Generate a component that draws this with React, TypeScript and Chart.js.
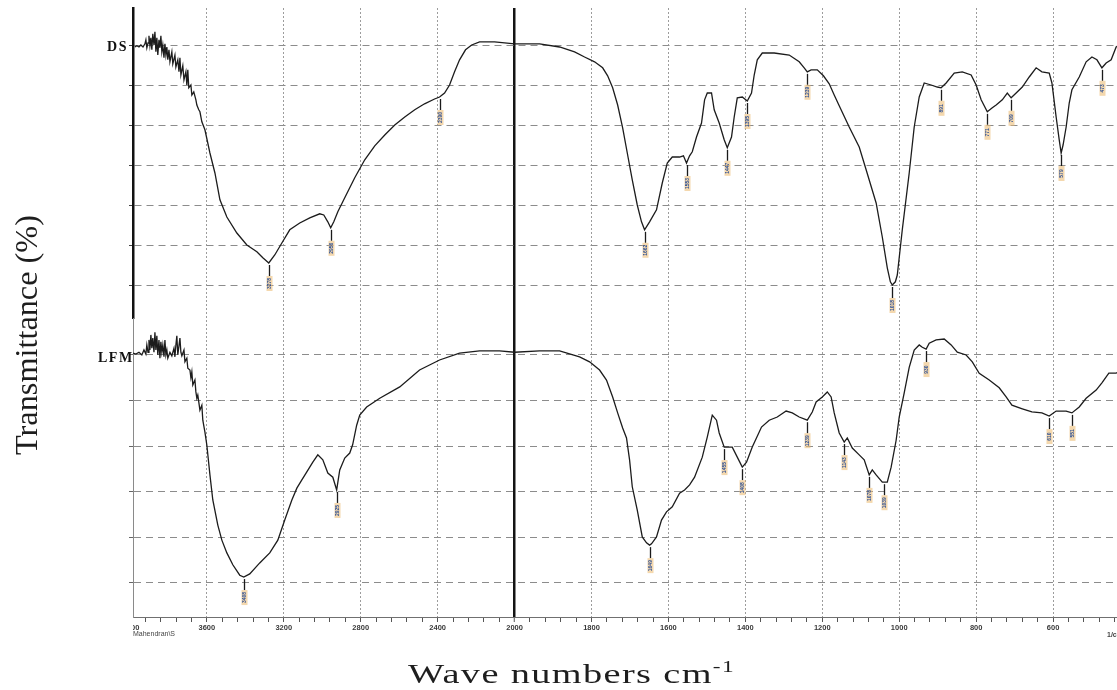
import React, { useEffect, useRef } from "react";
import { Chart, registerables } from "chart.js";

Chart.register(...registerables);

// FTIR spectra: wavenumber (cm-1) and transmittance for the two samples
const dsWavenumbers = [
  3974, 3964, 3953, 3943, 3932, 3922, 3917, 3912, 3906, 3901,
  3896, 3891, 3886, 3881, 3875, 3870, 3865, 3860, 3855, 3849,
  3844, 3839, 3834, 3829, 3823, 3818, 3813, 3808, 3803, 3797,
  3792, 3782, 3777, 3766, 3761, 3751, 3745, 3740, 3735, 3725,
  3719, 3709, 3704, 3699, 3694, 3683, 3678, 3668, 3657, 3652,
  3642, 3636, 3626, 3610, 3584, 3558, 3532, 3496, 3444, 3392,
  3340, 3309, 3278, 3247, 3210, 3169, 3117, 3065, 3013, 2992,
  2971, 2956, 2940, 2919, 2883, 2831, 2779, 2727, 2675, 2623,
  2571, 2519, 2468, 2416, 2390, 2364, 2338, 2312, 2286, 2255,
  2223, 2182, 2104, 2000,
  1935, 1883, 1844, 1818, 1792, 1771, 1758, 1745, 1732, 1719,
  1706, 1694, 1681, 1670, 1662, 1649, 1631, 1616, 1603, 1590,
  1571, 1561, 1553, 1545, 1538, 1527, 1514, 1506, 1499, 1488,
  1481, 1468, 1455, 1447, 1436, 1429, 1421, 1408, 1395, 1384,
  1377, 1369, 1356, 1325, 1286, 1260, 1247, 1239, 1229, 1213,
  1197, 1182, 1169, 1156, 1130, 1104, 1086, 1060, 1044, 1031,
  1023, 1018, 1010, 1005, 992, 974, 961, 948, 935, 917,
  901, 891, 878, 857, 836, 813, 800, 787, 771, 758,
  748, 732, 719, 709, 696, 680, 662, 644, 629, 610,
  603, 592, 584, 579, 574, 566, 558, 551, 532, 514,
  499, 486, 473, 462, 449, 436, 423, 403,
];
const dsTransmittance = [
  89.5, 89.8, 89.5, 90.0, 89.5, 90.3, 91.3, 89.3, 90.5, 92.3,
  89.8, 91.8, 88.8, 92.8, 90.0, 93.3, 88.3, 91.8, 87.5, 91.3,
  89.3, 92.3, 88.3, 90.0, 86.8, 90.3, 87.5, 89.5, 86.3, 88.8,
  85.8, 88.3, 85.3, 87.5, 84.5, 86.3, 83.3, 86.8, 82.5, 84.8,
  81.3, 83.3, 80.0, 83.8, 79.3, 80.0, 77.5, 78.3, 76.3, 75.0,
  73.8, 73.3, 70.8, 68.8, 63.0, 58.0, 51.3, 47.0, 43.0, 40.0,
  38.3, 36.8, 35.5, 37.5, 40.5, 43.8, 45.5, 46.8, 47.8, 47.5,
  45.8, 44.3, 45.8, 48.3, 51.8, 56.8, 61.3, 64.8, 67.5, 70.0,
  72.0, 73.8, 75.3, 76.5, 77.0, 78.0, 80.0, 83.3, 86.3, 88.8,
  90.0, 90.8, 90.8, 90.3,
  90.3, 89.5, 88.3, 87.0, 85.8, 84.3, 82.3, 79.3, 75.0, 69.3,
  62.5, 56.3, 50.0, 45.8, 43.8, 45.8, 48.8, 55.5, 60.5, 62.0,
  62.0, 62.3, 60.5, 62.3, 63.3, 67.0, 70.5, 76.3, 78.0, 78.0,
  73.8, 70.5, 66.3, 64.3, 67.0, 72.0, 76.8, 77.0, 76.0, 78.0,
  82.5, 86.3, 88.0, 88.0, 87.5, 85.8, 84.3, 83.3, 83.8, 83.8,
  82.3, 80.3, 77.5, 74.8, 69.5, 64.5, 58.8, 50.5, 42.0, 34.3,
  30.8, 30.0, 30.8, 32.5, 43.8, 58.0, 69.5, 77.0, 80.5, 80.0,
  79.5, 79.3, 80.5, 83.0, 83.3, 82.5, 80.0, 76.3, 73.3, 74.3,
  75.0, 76.3, 78.0, 76.8, 78.0, 79.5, 82.0, 84.3, 83.3, 83.0,
  80.5, 72.0, 66.3, 63.0, 65.0, 69.5, 75.5, 78.8, 82.0, 85.8,
  87.0, 86.3, 84.3, 85.5, 86.3, 89.5, 90.3, 90.8,
];

const lfmWavenumbers = [
  3984, 3969, 3953, 3938, 3927, 3917, 3912, 3906, 3901, 3896,
  3891, 3886, 3881, 3875, 3870, 3865, 3860, 3855, 3849, 3844,
  3839, 3834, 3829, 3823, 3818, 3813, 3808, 3803, 3792, 3782,
  3771, 3766, 3761, 3756, 3751, 3740, 3735, 3730, 3719, 3714,
  3704, 3699, 3688, 3683, 3678, 3673, 3662, 3657, 3652, 3647,
  3636, 3626, 3621, 3610, 3600, 3584, 3569, 3543, 3522, 3496,
  3465, 3429, 3408, 3377, 3325, 3273, 3231, 3195, 3158, 3132,
  3106, 3081, 3049, 3023, 2997, 2971, 2945, 2925, 2909, 2883,
  2857, 2842, 2821, 2805, 2769, 2701, 2597, 2494, 2390, 2286,
  2182, 2078, 2000,
  1935, 1883, 1831, 1805, 1779, 1761, 1745, 1732, 1719, 1709,
  1701, 1694, 1681, 1668, 1657, 1649, 1644, 1631, 1618, 1605,
  1590, 1571, 1558, 1545, 1532, 1512, 1499, 1486, 1475, 1468,
  1455, 1447, 1434, 1421, 1408, 1397, 1382, 1358, 1338, 1317,
  1294, 1278, 1260, 1239, 1226, 1216, 1200, 1187, 1177, 1169,
  1156, 1143, 1135, 1122, 1104, 1091, 1078, 1070, 1060, 1044,
  1031, 1021, 1008, 1000, 987, 974, 961, 948, 940, 930,
  922, 904, 883, 865, 849, 826, 810, 792, 766, 740,
  722, 707, 680, 655, 629, 610, 592, 566, 551, 532,
  514, 488, 473, 455, 436, 418, 403,
];
const lfmTransmittance = [
  60.4, 60.2, 60.6, 60.0, 61.1, 60.2, 62.2, 60.6, 63.3, 61.1,
  64.4, 61.5, 63.7, 60.6, 65.0, 61.1, 64.2, 60.0, 63.3, 59.3,
  62.9, 60.6, 62.2, 59.6, 63.3, 60.0, 61.1, 59.3, 60.6, 59.8,
  61.5, 59.6, 62.2, 64.2, 60.0, 63.7, 60.6, 59.8, 61.1, 58.5,
  59.3, 57.1, 56.7, 55.0, 56.3, 53.4, 54.5, 51.9, 50.5, 51.2,
  47.9, 49.0, 45.7, 43.1, 40.2, 33.7, 28.2, 22.7, 19.4, 16.6,
  14.0, 11.7, 11.3, 12.0, 14.4, 16.6, 19.4, 23.8, 28.2, 30.8,
  32.6, 34.3, 36.5, 38.1, 37.0, 34.1, 33.2, 30.4, 34.8, 37.4,
  38.5, 40.3, 44.6, 46.8, 48.6, 50.5, 53.0, 56.7, 58.9, 60.4,
  60.9, 60.9, 60.6,
  60.9, 60.9, 59.6, 58.5, 56.7, 54.5, 50.8, 47.3, 44.0, 41.8,
  37.0, 31.1, 26.0, 20.1, 18.8, 18.3, 18.6, 20.1, 23.8, 25.6,
  26.7, 29.7, 30.4, 31.5, 33.2, 37.6, 42.0, 46.8, 45.7, 42.9,
  39.8, 39.8, 39.8, 37.6, 35.4, 36.5, 39.8, 44.2, 45.7, 46.4,
  47.7, 47.3, 46.4, 45.7, 47.5, 49.7, 50.8, 51.9, 50.8, 47.3,
  42.9, 40.9, 41.8, 39.6, 38.1, 37.0, 33.7, 34.8, 33.7, 32.1,
  32.1, 35.4, 41.3, 46.4, 51.7, 57.3, 61.1, 62.2, 61.7, 61.3,
  62.6, 63.3, 63.5, 62.2, 60.6, 60.0, 58.5, 56.0, 54.5, 52.8,
  50.8, 49.0, 48.2, 47.5, 47.3, 46.6, 47.7, 47.7, 47.3, 48.6,
  50.5, 52.3, 53.9, 56.0, 56.0, 57.1, 57.8,
];

// Peak positions (cm-1) marked under each trace
const dsPeaks = [3278, 2956, 2390, 1662, 1553, 1447, 1395, 1239, 1018, 891, 771, 709, 579, 473];
const lfmPeaks = [3408, 2925, 1649, 1455, 1408, 1239, 1143, 1078, 1039, 930, 610, 551];

// Labelled wavenumbers on the x axis (scale is expanded below 2000 cm-1)
const tickLabels = [4000, 3600, 3200, 2800, 2400, 2000, 1800, 1600, 1400, 1200, 1000, 800, 600, 400];

const BREAK_WN = 2000;
const AXIS_START_WN = 3984;
const AXIS_END_WN = 400;

const toAxis = (wn: number) => (wn > BREAK_WN ? BREAK_WN + (wn - BREAK_WN) / 2 : wn);
const fromAxis = (u: number) => (u > BREAK_WN ? BREAK_WN + (u - BREAK_WN) * 2 : u);

// minor ticks: five intervals between labelled wavenumbers
const tickValues: number[] = [];
for (let i = 0; i < tickLabels.length - 1; i++) {
  const a = tickLabels[i];
  const b = tickLabels[i + 1];
  for (let k = 0; k < 5; k++) tickValues.push(a - ((a - b) * k) / 5);
}
tickValues.push(tickLabels[tickLabels.length - 1]);

function valueAt(wns: number[], vals: number[], wn: number) {
  for (let i = 0; i < wns.length - 1; i++) {
    const a = wns[i];
    const b = wns[i + 1];
    if (wn <= a && wn >= b) {
      const t = a === b ? 0 : (a - wn) / (a - b);
      return vals[i] + (vals[i + 1] - vals[i]) * t;
    }
  }
  return vals[vals.length - 1];
}

const isBreak = (c: any) => !!c.tick && Math.round(fromAxis(c.tick.value)) === BREAK_WN;
const isLabelled = (c: any) => !!c.tick && tickLabels.includes(Math.round(fromAxis(c.tick.value)));

const annotations = {
  id: "spectrumAnnotations",
  afterDraw(chart: any) {
    const ctx: CanvasRenderingContext2D = chart.ctx;
    const xs = chart.scales.x;

    const drawPeaks = (peaks: number[], wns: number[], vals: number[], yScale: any) => {
      peaks.forEach((wn) => {
        const px = Math.round(xs.getPixelForValue(toAxis(wn))) + 0.5;
        const py = yScale.getPixelForValue(valueAt(wns, vals, wn));
        ctx.save();
        ctx.strokeStyle = "#1a1a1a";
        ctx.lineWidth = 1.3;
        ctx.beginPath();
        ctx.moveTo(px, py + 2);
        ctx.lineTo(px, py + 13);
        ctx.stroke();
        ctx.fillStyle = "rgba(236,190,120,0.6)";
        ctx.fillRect(px - 3, py + 13, 6, 15);
        ctx.translate(px, py + 20.5);
        ctx.rotate(-Math.PI / 2);
        ctx.font = "bold 5px 'Liberation Sans'";
        ctx.textAlign = "center";
        ctx.textBaseline = "middle";
        ctx.fillStyle = "#2b4f96";
        ctx.fillText(String(wn), 0, 0.5);
        ctx.restore();
      });
    };
    drawPeaks(dsPeaks, dsWavenumbers, dsTransmittance, chart.scales.yDS);
    drawPeaks(lfmPeaks, lfmWavenumbers, lfmTransmittance, chart.scales.yLFM);

    ctx.save();
    // sample names
    ctx.fillStyle = "#111";
    ctx.font = "bold 14px 'Liberation Serif'";
    ctx.textBaseline = "middle";
    ctx.textAlign = "right";
    (ctx as any).letterSpacing = "1.5px";
    ctx.fillText("DS", 128, 47);
    ctx.textAlign = "left";
    ctx.fillText("LFM", 98, 358);
    (ctx as any).letterSpacing = "0px";

    // axis footnotes
    ctx.fillStyle = "#444";
    ctx.font = "7px 'Liberation Sans'";
    ctx.textAlign = "left";
    ctx.fillText("Mahendran\\S", 133, 634);
    ctx.font = "bold 7px 'Liberation Sans'";
    ctx.fillText("1/cm", 1107, 635);
    ctx.save();
    ctx.beginPath();
    ctx.rect(133, 620, 20, 16);
    ctx.clip();
    ctx.font = "bold 7.5px 'Liberation Sans'";
    ctx.textAlign = "center";
    ctx.fillStyle = "#3a3a3a";
    ctx.fillText("4000", 131, 628);
    ctx.restore();

    // y title
    const yTitle = "Transmittance (%)";
    ctx.save();
    ctx.translate(29, 335);
    ctx.rotate(-Math.PI / 2);
    ctx.font = "32px 'Liberation Serif'";
    const w = ctx.measureText(yTitle).width;
    ctx.scale(240 / w, 1);
    ctx.textAlign = "center";
    ctx.textBaseline = "middle";
    ctx.fillStyle = "#1e1e1e";
    ctx.fillText(yTitle, 0, 0);
    ctx.restore();

    // x title with superscript unit, stretched to the printed width
    ctx.save();
    ctx.fillStyle = "#1e1e1e";
    ctx.textBaseline = "alphabetic";
    ctx.textAlign = "left";
    (ctx as any).letterSpacing = "1px";
    const main = "Wave numbers cm";
    const sup = "-1";
    ctx.font = "28px 'Liberation Serif'";
    const mw = ctx.measureText(main).width;
    ctx.font = "17px 'Liberation Serif'";
    const sw = ctx.measureText(sup).width;
    const total = mw + sw;
    const targetWidth = 327;
    ctx.translate(408, 683);
    ctx.scale(targetWidth / total, 1);
    ctx.font = "28px 'Liberation Serif'";
    ctx.fillText(main, 0, 0);
    ctx.font = "17px 'Liberation Serif'";
    ctx.fillText(sup, mw, -11);
    ctx.restore();
    ctx.restore();
  },
};

export default function App() {
  const canvasRef = useRef<HTMLCanvasElement | null>(null);

  useEffect(() => {
    if (!canvasRef.current) return;
    const chart = new Chart(canvasRef.current, {
      type: "line",
      data: {
        datasets: [
          {
            label: "DS",
            data: dsWavenumbers.map((wn, i) => ({ x: toAxis(wn), y: dsTransmittance[i] })),
            yAxisID: "yDS",
            borderColor: "#1c1c1c",
            borderWidth: 1.3,
            pointRadius: 0,
            tension: 0,
            fill: false,
          },
          {
            label: "LFM",
            data: lfmWavenumbers.map((wn, i) => ({ x: toAxis(wn), y: lfmTransmittance[i] })),
            yAxisID: "yLFM",
            borderColor: "#1c1c1c",
            borderWidth: 1.3,
            pointRadius: 0,
            tension: 0,
            fill: false,
          },
        ],
      },
      options: {
        responsive: false,
        animation: false,
        devicePixelRatio: 1,
        layout: { padding: { left: 127, top: 8, right: 10, bottom: 43 } },
        plugins: { legend: { display: false }, tooltip: { enabled: false }, title: { display: false } },
        scales: {
          x: {
            type: "linear",
            reverse: true,
            min: toAxis(AXIS_END_WN),
            max: toAxis(AXIS_START_WN),
            afterFit: (s: any) => {
              s.height = 30;
            },
            afterBuildTicks: (s: any) => {
              s.ticks = tickValues
                .map(toAxis)
                .filter((u) => u >= s.min && u <= s.max)
                .map((value) => ({ value }));
            },
            ticks: {
              autoSkip: false,
              maxRotation: 0,
              minRotation: 0,
              padding: 1,
              color: "#3a3a3a",
              font: { family: "'Liberation Sans'", size: 7.5, weight: "bold" },
              callback: (v: any) => {
                const wn = Math.round(fromAxis(Number(v)));
                return tickLabels.includes(wn) ? String(wn) : "";
              },
            },
            grid: {
              color: (c: any) => (isBreak(c) ? "#141414" : isLabelled(c) ? "#9c9c9c" : "rgba(0,0,0,0)"),
              lineWidth: (c: any) => (isBreak(c) ? 2.5 : 1),
              tickColor: "#555",
              tickLength: 5,
              tickWidth: 1,
            },
            border: {
              color: "#707070",
              width: 1,
              dash: (c: any) => (isBreak(c) ? [] : [2, 2]),
            },
          },
          yDS: {
            type: "linear",
            position: "left",
            stack: "panels",
            stackWeight: 310,
            weight: 2,
            min: 21.75,
            max: 99.25,
            afterFit: (s: any) => {
              s.width = 6;
            },
            ticks: { display: false, stepSize: 10, includeBounds: false },
            grid: { color: "#8c8c8c", lineWidth: 1, tickLength: 4, tickColor: "#444" },
            border: { color: "#111", width: 2.5, dash: [7, 5] },
          },
          yLFM: {
            type: "linear",
            position: "left",
            stack: "panels",
            stackWeight: 299,
            weight: 1,
            min: 2.54,
            max: 68.11,
            afterFit: (s: any) => {
              s.width = 6;
            },
            ticks: { display: false, stepSize: 10, includeBounds: false },
            grid: { color: "#8c8c8c", lineWidth: 1, tickLength: 4, tickColor: "#666" },
            border: { color: "#8a8a8a", width: 1, dash: [7, 5] },
          },
        },
      } as any,
      plugins: [annotations],
    });
    return () => chart.destroy();
  }, []);

  return (
    <div
      style={{
        position: "absolute",
        left: 0,
        top: 0,
        width: 1117,
        height: 690,
        overflow: "hidden",
        background: "#fff",
      }}
    >
      <canvas ref={canvasRef} width={1140} height={690} style={{ width: 1140, height: 690, display: "block" }} />
    </div>
  );
}
